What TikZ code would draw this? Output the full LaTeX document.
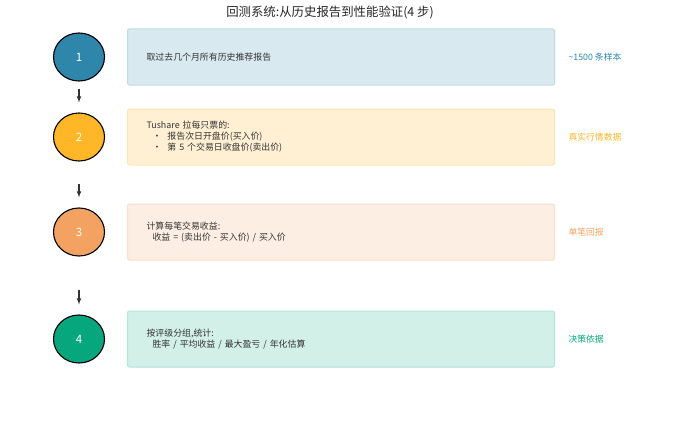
\documentclass[tikz,border=0pt]{standalone}
\usepackage{fontspec}
\setmainfont{Noto Sans CJK SC}
\usepackage{tikz}
\usetikzlibrary{arrows,shapes,positioning}
\definecolor{cblue}{HTML}{2E86AB}
\definecolor{camber}{HTML}{FFB627}
\definecolor{csand}{HTML}{F4A261}
\definecolor{cgreen}{HTML}{06A77D}
\definecolor{ctext}{HTML}{333333}
\tikzset{
    step circle/.style={ellipse, draw=black, line width=1.1pt, minimum width=51pt, minimum height=48pt, text=white, font=\fontsize{11.5}{13}\selectfont},
    step box/.style={rectangle, rounded corners=2pt, line width=1pt, anchor=west, minimum width=427pt, minimum height=56pt, text width=389pt, inner xsep=19pt, align=left, text=ctext, font=\fontsize{8.9}{11}\selectfont},
    side note/.style={anchor=west, font=\fontsize{8.8}{10}\selectfont},
    flow arrow/.style={->, draw=ctext, line width=1.1pt}
}
\begin{document}
\begin{tikzpicture}[x=1pt,y=-1pt,>=latex]
	\useasboundingbox (0,0) rectangle (690,436);
	\node[text=black!85, font=\fontsize{12.4}{14}\selectfont](title) at (330,12){回测系统:从历史报告到性能验证(4 步)};
	
	\node[step circle, fill=cblue](step1) at (79,57){1};
	\node[step circle, fill=camber](step2) at (79,137){2};
	\node[step circle, fill=csand](step3) at (79,232){3};
	\node[step circle, fill=cgreen](step4) at (79,339){4};
	
	\node[step box, fill=cblue!18, draw=cblue!30, right = 22pt of step1.east](box1){取过去几个月所有历史推荐报告};
	\node[step box, fill=camber!20, draw=camber!35, right = 22pt of step2.east](box2){Tushare 拉每只票的:\\
		\hspace{6pt}·\hspace{6pt}报告次日开盘价(买入价)\\
		\hspace{6pt}·\hspace{6pt}第 5 个交易日收盘价(卖出价)};
	\node[step box, fill=csand!18, draw=csand!35, right = 22pt of step3.east](box3){计算每笔交易收益:\\
		\hspace{6pt}收益 = (卖出价 - 买入价) / 买入价};
	\node[step box, fill=cgreen!18, draw=cgreen!30, right = 22pt of step4.east](box4){按评级分组,统计:\\
		\hspace{6pt}胜率 / 平均收益 / 最大盈亏 / 年化估算};
	
	\node[side note, text=cblue, right = 10pt of box1.east](note1){\textasciitilde 1500 条样本};
	\node[side note, text=camber, right = 10pt of box2.east](note2){真实行情数据};
	\node[side note, text=csand, right = 10pt of box3.east](note3){单笔回报};
	\node[side note, text=cgreen, right = 10pt of box4.east](note4){决策依据};
	
	\coordinate[below = 7pt of step1.south](a1);
	\coordinate[above = 10pt of step2.north](b1);
	\coordinate[below = 22pt of step2.south](a2);
	\coordinate[above = 10pt of step3.north](b2);
	\coordinate[below = 33pt of step3.south](a3);
	\coordinate[above = 10pt of step4.north](b3);
	\draw[flow arrow] (a1) -- (b1);
	\draw[flow arrow] (a2) -- (b2);
	\draw[flow arrow] (a3) -- (b3);
\end{tikzpicture}
\end{document}
